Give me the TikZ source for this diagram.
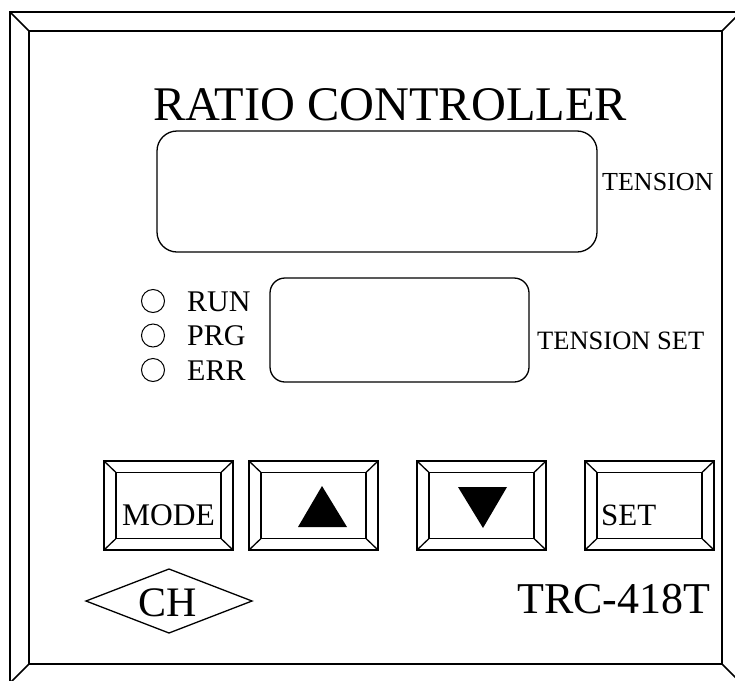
\documentclass[tikz,border=0pt]{standalone}
\usepackage{fontspec}
\setmainfont{Liberation Serif}
\newcommand\fs[1]{\fontsize{#1}{#1}\selectfont}
\newcommand\panelbtn[5]{%
  \draw[btnline] (#1,#2) rectangle (#3,#4);
  \draw[btnline] (#1+12,#2+11.5) rectangle (#3-12,#4-11.5);
  \draw[btnline] (#1,#2)--(#1+12,#2+11.5) (#3,#2)--(#3-12,#2+11.5)
                 (#1,#4)--(#1+12,#4-11.5) (#3,#4)--(#3-12,#4-11.5);
  \coordinate (#5) at ({(#1+#3)/2},{(#2+#4)/2});
}
\tikzset{
  frameline/.style={line width=1.7pt},
  btnline/.style={line width=1.3pt},
  disp/.style={draw, line width=1.3pt, inner sep=0pt},
  lbl/.style={inner sep=0pt, anchor=base west},
  led/.style={draw, circle, minimum size=23pt, inner sep=0pt, line width=1pt},
}
\begin{document}
\begin{tikzpicture}[x=1pt,y=-1pt,line join=miter]
\useasboundingbox (0,0) rectangle (735,680);
\begin{scope}
\clip (0,0) rectangle (735,680);
% bevelled frame
\draw[frameline] (10,12) rectangle (741,683);
\draw[frameline] (29,31) rectangle (722,664);
\draw[frameline] (10,12)--(29,31) (741,12)--(722,31) (10,683)--(29,664) (741,683)--(722,664);
\end{scope}
% title
\node[lbl] (title) at (153,120) {\fs{48.3}RATIO CONTROLLER};
% displays
\node[disp, rounded corners=20pt, minimum width=440pt, minimum height=121pt] (tension) at (377,191.5) {};
\node[lbl] (tensionlbl) at (602,190) {\fs{26}TENSION};
\node[disp, rounded corners=15pt, minimum width=259pt, minimum height=104pt] (tset) at (399.5,330) {};
\node[lbl] (tsetlbl) at (537,349) {\fs{26.5}TENSION SET};
% LEDs
\node[led] (run) at (153,301) {};
\node[led] (prg) at (153,335.5) {};
\node[led] (err) at (153,370) {};
\node[lbl] (runlbl) at (187,311) {\fs{30}RUN};
\node[lbl] (prglbl) at (187,345.5) {\fs{30}PRG};
\node[lbl] (errlbl) at (187,380) {\fs{30}ERR};
% buttons
\panelbtn{104}{461}{233}{550}{bmode}
\panelbtn{249}{461}{378}{550}{bup}
\panelbtn{417}{461}{546}{550}{bdown}
\panelbtn{585}{461}{714}{550}{bset}
\node[lbl] (modelbl) at (122,525) {\fs{31.5}MODE};
\node[lbl] (setlbl) at (601,525) {\fs{31}SET};
\fill (322,486)--(347,527)--(298,527)--cycle;
\fill (458,487)--(507,487)--(483,528)--cycle;
% CH badge
\draw[btnline] (86,601)--(169,569)--(252,601)--(169,633)--cycle;
\node[lbl] (ch) at (138,616) {\fs{42}CH};
% model
\node[lbl] (model) at (517,613) {\fs{44}TRC-418T};
\end{tikzpicture}
\end{document}
